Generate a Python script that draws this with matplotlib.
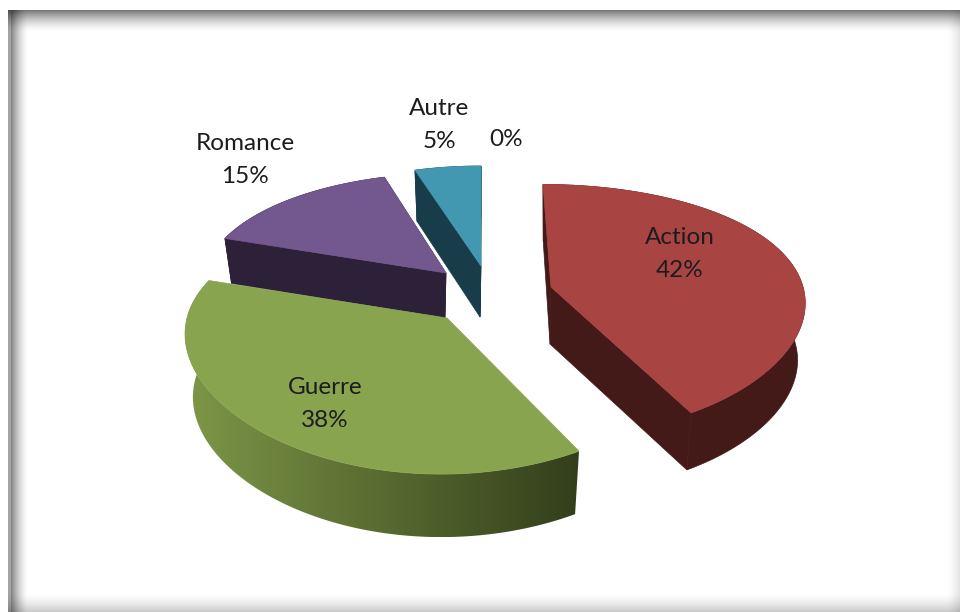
"""3D exploded pie chart of film genres, drawn slice by slice."""

import matplotlib
matplotlib.use("Agg")
import matplotlib.pyplot as plt
import numpy as np
from matplotlib.colors import LinearSegmentedColormap
from matplotlib.patches import Polygon

plt.rcParams["font.family"] = ["Lato", "DejaVu Sans"]

# Data
categories = ["Action", "Guerre", "Romance", "Autre", ""]
values = [42, 38, 15, 5, 0]

# Look of each slice, same order as categories
TOP_COLORS = ["#a84543", "#89a44e", "#72588f", "#4298b0"]
SIDE_COLORS = ["#431a17", "#7d9747", "#2c2138", "#183c49"]
SIDE_END = [None, "#333e1b", None, None]  # only Guerre has a gradient wall
APEX = [(551, 287), (447, 318), (446, 273), (481, 266)]
SCALE_X = [252, 260, 242, 234]
SCALE_Y = [121, 128, 118, 118]
SKEW = [8, -6, -7, 0]
DEPTH = [57, 63, 45, 51]
DRAW_ORDER = [3, 2, 0, 1]
PERSP_X = 0.10
PERSP_Y = 0.18
BOTTOM_SHRINK = 0.97

LABEL_POS = [(680, 254), (325, 404), (245, 160), (439, 125), (506, 139)]
LABEL_COLOR = "#1c1c1c"


def project(i, t, bottom=False):
    """Screen position of angle t (clockwise from top) on the rim of slice i."""
    X, Y = np.sin(t), -np.cos(t)
    dx = SCALE_X[i] * X / (1 - PERSP_X * Y) + SKEW[i] * Y
    dy = SCALE_Y[i] * Y / (1 - PERSP_Y * Y)
    ax0, ay0 = APEX[i]
    if bottom:
        return ax0 + BOTTOM_SHRINK * dx, ay0 + dy + DEPTH[i]
    return ax0 + dx, ay0 + dy


def draw_frame(ax):
    yy, xx = np.mgrid[0:612, 0:960]
    top = np.where(yy < 10, 0, 0.52 * np.clip(1 - (yy - 10) / 22, 0, 1) ** 1.6)
    left = np.where(xx < 8, 0, 0.52 * np.clip(1 - (xx - 10) / 18, 0, 1) ** 1.6)
    left = np.where((xx >= 8) & (xx < 11), 0.36, left)
    right = 0.12 * np.clip((xx - 946) / 14, 0, 1) ** 1.5
    bottom = 0.22 * np.clip((yy - 592) / 20, 0, 1) ** 1.5
    shade = (1 - top) * (1 - left) * (1 - right) * (1 - bottom)
    shade[(yy < 10) | (xx < 8)] = 1
    ax.imshow(shade, cmap="gray", vmin=0, vmax=1, extent=(0, 960, 612, 0),
              interpolation="nearest", zorder=0)


def draw_slice(ax, i, t0, t1, zorder):
    ts = np.linspace(t0, t1, 120)
    top_rim = np.array([project(i, t) for t in ts])
    low_rim = np.array([project(i, t, bottom=True) for t in ts])
    ax0, ay0 = APEX[i]
    low_apex = (ax0 - 1, ay0 + DEPTH[i])

    # Two cut faces running down from the apex, then the outer wall
    side = SIDE_COLORS[i]
    if SIDE_END[i] is None:
        for k in (0, -1):
            face = [(ax0, ay0), top_rim[k], low_rim[k], low_apex]
            ax.add_patch(Polygon(face, fc=side, ec=side, lw=0.5, zorder=zorder))

    wall = np.vstack([top_rim, low_rim[::-1]])
    if SIDE_END[i] is None:
        ax.add_patch(Polygon(wall, fc=side, ec=side, lw=0.5, zorder=zorder))
    else:
        patch = Polygon(wall, fc="none", ec="none", zorder=zorder)
        ax.add_patch(patch)
        cmap = LinearSegmentedColormap.from_list("wall", [side, SIDE_END[i]])
        x0, x1 = wall[:, 0].min(), wall[:, 0].max()
        y0, y1 = wall[:, 1].min(), wall[:, 1].max()
        im = ax.imshow(np.linspace(0, 1, 256).reshape(1, -1), cmap=cmap,
                       extent=(x0, x1, y1, y0), aspect="auto", zorder=zorder)
        im.set_clip_path(patch)

    top = np.vstack([[(ax0, ay0)], top_rim])
    ax.add_patch(Polygon(top, fc=TOP_COLORS[i], ec=TOP_COLORS[i], lw=0.5,
                         zorder=zorder + 0.5))


fig = plt.figure(figsize=(9.6, 6.12), dpi=100)
fig.patch.set_facecolor("white")
ax = fig.add_axes([0, 0, 1, 1])
draw_frame(ax)

# Slice angles from the values
total = sum(values)
edges = np.concatenate([[0], np.cumsum(values)]) / total * 2 * np.pi

for n, i in enumerate(DRAW_ORDER):
    draw_slice(ax, i, edges[i], edges[i + 1], 2 + n)

for name, val, (lx, ly) in zip(categories, values, LABEL_POS):
    label = f"{name}\n{val}%" if name else f"{val}%"
    ax.text(lx, ly, label, ha="center", va="center", fontsize=17.5,
            color=LABEL_COLOR, linespacing=1.72, zorder=10)

ax.set_xlim(0, 960)
ax.set_ylim(612, 0)
ax.axis("off")

fig.savefig("out.png", dpi=100, facecolor="white")
plt.close(fig)
